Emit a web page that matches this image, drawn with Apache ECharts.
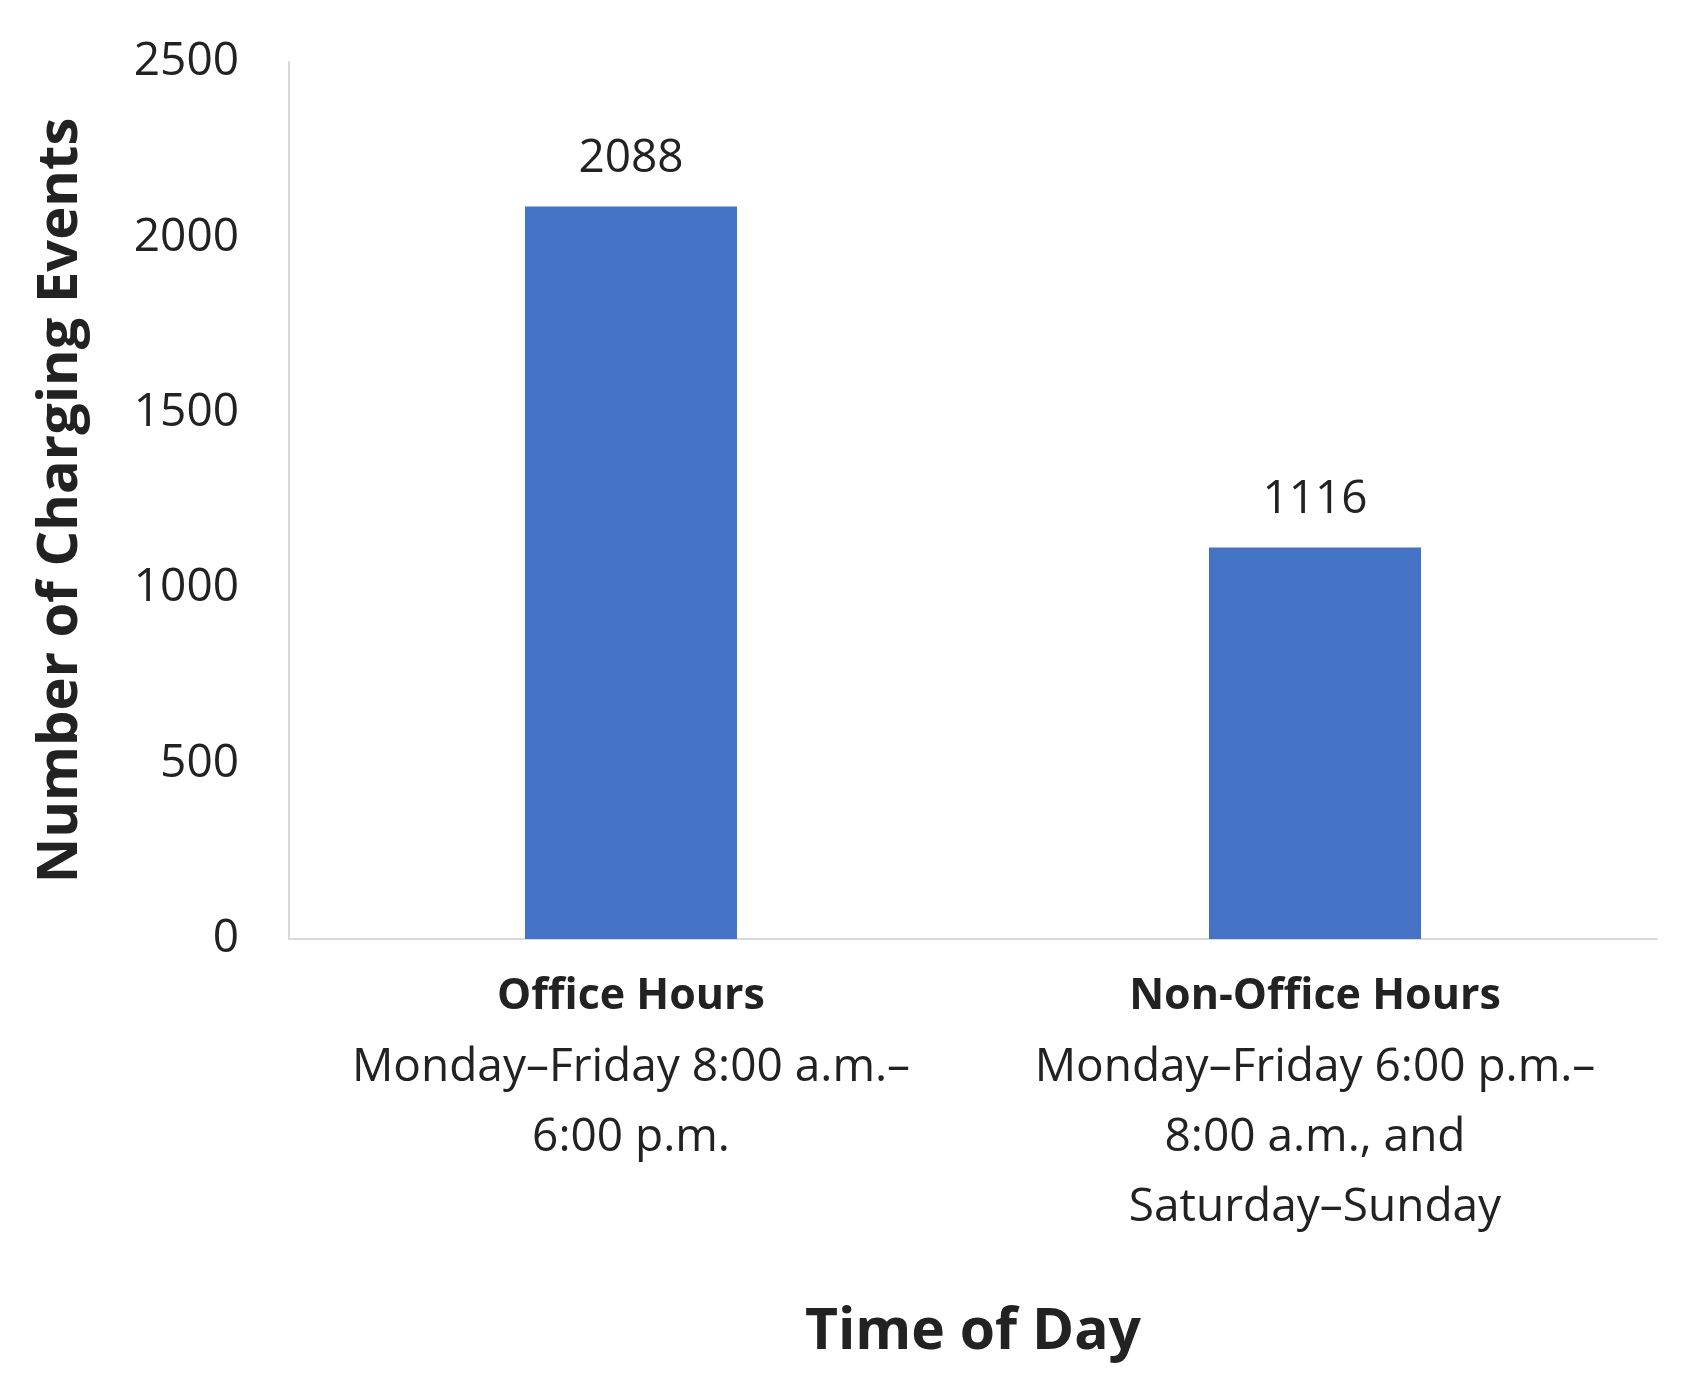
<!DOCTYPE html><html><head><meta charset="utf-8">
<script src="https://cdn.jsdelivr.net/npm/echarts@6/dist/echarts.min.js"></script>
<style>html,body{margin:0;background:#fff}#c{width:1684px;height:1389px}</style></head><body><div id="c"></div>
<script>
const categoryTitles=['Office Hours','Non-Office Hours'];
const categoryDetails=['Monday–Friday 8:00 a.m.–\n6:00 p.m.','Monday–Friday 6:00 p.m.–\n8:00 a.m., and\nSaturday–Sunday'];
const values=[2088,1116];
const yTicks=[0,500,1000,1500,2000,2500];
const F='"Open Sans", "Liberation Sans", sans-serif';
const ch=echarts.init(document.getElementById('c'));
ch.setOption({
 grid:{left:289,right:27,top:62,bottom:450},
 xAxis:{type:'category',data:categoryTitles.map((t,i)=>t+'|'+categoryDetails[i]),
  name:'Time of Day',nameLocation:'middle',nameGap:365,
  nameTextStyle:{fontFamily:F,fontSize:57,fontWeight:'bold',color:'#222'},
  axisLine:{lineStyle:{color:'#d9d9d9',width:2}},axisTick:{show:false},
  axisLabel:{margin:22,fontFamily:F,interval:0,
   formatter:v=>{const [a,b]=v.split('|');return '{b|'+a+'}\n'+b.split('\n').map(s=>'{n|'+s+'}').join('\n');},
   rich:{b:{fontFamily:F,fontSize:43,fontWeight:'bold',color:'#222',lineHeight:72},
         n:{fontFamily:F,fontSize:46,color:'#222',lineHeight:70}}}},
 yAxis:{type:'value',min:0,max:2500,interval:500,
  name:'Number of Charging Events',nameLocation:'middle',nameGap:200,
  nameTextStyle:{fontFamily:F,fontSize:56,fontWeight:'bold',color:'#222'},
  axisLine:{show:true,lineStyle:{color:'#d9d9d9',width:2}},splitLine:{show:false},
  axisTick:{show:false},
  axisLabel:{margin:50,fontFamily:F,fontSize:46,color:'#222',formatter:v=>yTicks.includes(v)?String(v):''}},
 series:[{type:'bar',data:values,barWidth:'31%',itemStyle:{color:'#4472c4'},
  label:{show:true,position:'top',distance:25,fontFamily:F,fontSize:46,color:'#222'}}]
});
</script></body></html>
